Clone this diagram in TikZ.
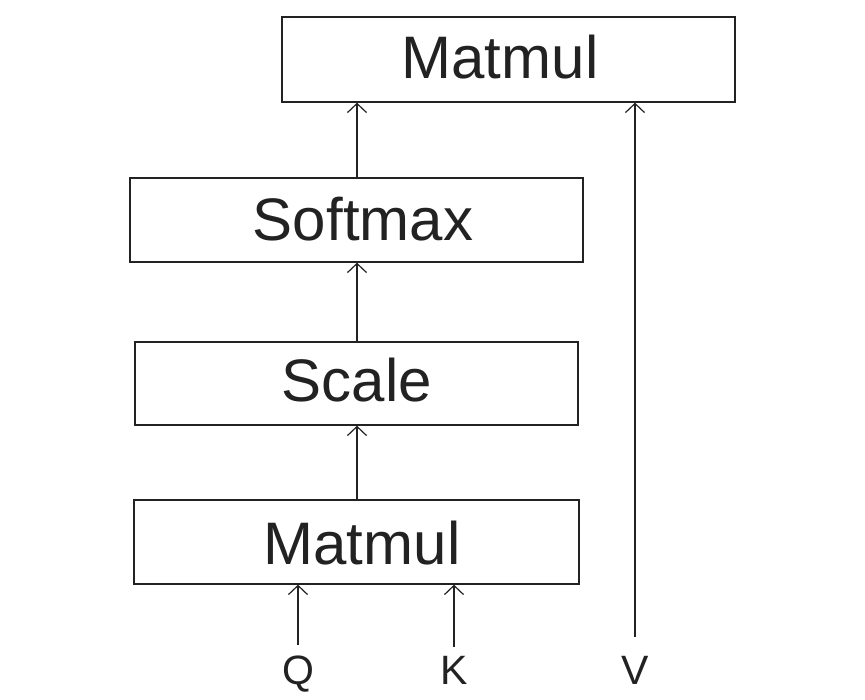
\documentclass[tikz,border=0pt]{standalone}
\usepackage{fontspec}
\setmainfont{Liberation Sans}
\usetikzlibrary{arrows.meta}
\definecolor{ink}{HTML}{222222}
\begin{document}
\begin{tikzpicture}[x=1pt,y=-1pt,
  opbox/.style={draw=ink,line width=1.4pt,fill=white,inner sep=0pt},
  optext/.style={anchor=base,font=\fontsize{60}{60}\selectfont,text=ink,inner sep=0pt},
  intext/.style={anchor=base,font=\fontsize{41}{41}\selectfont,text=ink,inner sep=0pt},
  flow/.style={draw=ink,line width=1.2pt,-{Straight Barb[length=9pt,width=19pt,line width=1.2pt]}}]
\useasboundingbox (0,0) rectangle (865,699);
\fill[white] (0,0) rectangle (865,699);
% boxes
\node[opbox,minimum width=453pt,minimum height=85pt] (mm2) at (508.5,59.5) {};
\node[opbox,minimum width=453pt,minimum height=84pt] (sm) at (356.5,220) {};
\node[opbox,minimum width=443pt,minimum height=83pt] (sc) at (356.5,383.5) {};
\node[opbox,minimum width=445pt,minimum height=84pt] (mm1) at (356.5,542) {};
% texts
\node[optext] (t2) at (500,78) {Matmul};
\node[optext] (t3) at (363,240) {Softmax};
\node[optext] (t4) at (357,401) {Scale};
\node[optext] (t1) at (362,564) {Matmul};
% inputs
\node[intext] (q) at (298,684) {Q};
\node[intext] (k) at (454,684) {K};
\node[intext] (v) at (635,684) {V};
\coordinate (qs) at (298,645);
\coordinate (ks) at (454,647);
\coordinate (vs) at (635,637);
% connectors
\draw[flow] (mm1.north -| 357,0) -- (sc.south -| 357,0);
\draw[flow] (sc.north -| 357,0) -- (sm.south -| 357,0);
\draw[flow] (sm.north -| 357,0) -- (mm2.south -| 357,0);
\draw[flow] (qs) -- (qs |- mm1.south);
\draw[flow] (ks) -- (ks |- mm1.south);
\draw[flow] (vs) -- (vs |- mm2.south);
\end{tikzpicture}
\end{document}
